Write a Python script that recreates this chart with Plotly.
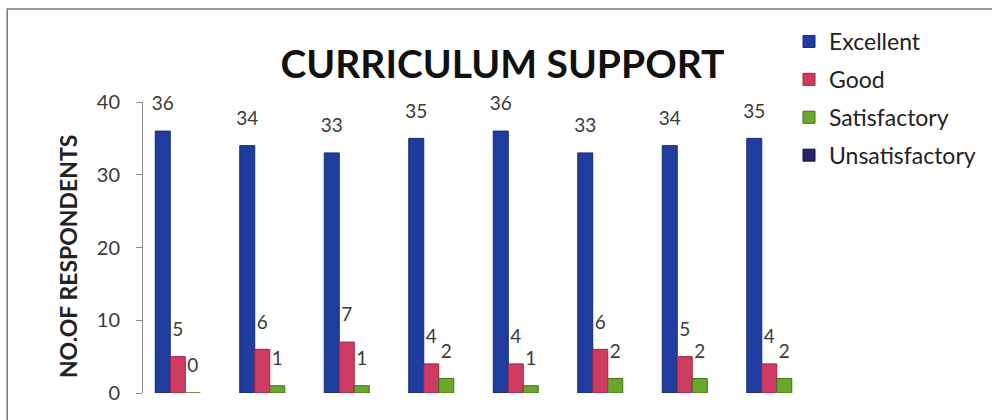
import plotly.graph_objects as go

categories = ["1", "2", "3", "4", "5", "6", "7", "8"]
excellent = [36, 34, 33, 35, 36, 33, 34, 35]
good = [5, 6, 7, 4, 4, 6, 5, 4]
satisfactory = [0, 1, 1, 2, 1, 2, 2, 2]
unsatisfactory = [None] * 8

series = [
    ("Excellent", excellent, "#1f3d9e", "#142a70"),
    ("Good", good, "#cf3c62", "#9a2442"),
    ("Satisfactory", satisfactory, "#6aa82c", "#3f6e18"),
    ("Unsatisfactory", unsatisfactory, "#262466", "#14123f"),
]

W, H = 992, 420
# plot area in page pixels: x 143..820, y 102..393
L, T = 143, 102
R = W - 820
B = H - 393
pw, ph = W - L - R, H - T - B

def px_x(x):
    return (x - L) / pw

def px_y(y):
    return (H - B - y) / ph

FONT = "Lato"
GAP = 0.29
fig = go.Figure()
for name, vals, col, edge in series:
    fig.add_trace(go.Bar(
        name=name, x=categories, y=vals,
        marker=dict(color=col, line=dict(color=edge, width=1)),
        legendgroup=name, offsetgroup=name,
    ))
for name, vals, col, edge in series:
    fig.add_trace(go.Scatter(
        x=categories, y=vals, mode="markers+text",
        text=[("" if v is None else str(v)) for v in vals],
        textposition="top center",
        textfont=dict(family=FONT, size=19, color="#3a3a3a"),
        marker=dict(size=24, color="rgba(0,0,0,0)"),
        offsetgroup=name, showlegend=False, hoverinfo="skip",
        cliponaxis=False,
    ))

fig.update_layout(
    width=W, height=H,
    margin=dict(l=L, r=R, t=T, b=B),
    paper_bgcolor="white", plot_bgcolor="white",
    barmode="group", bargap=GAP, bargroupgap=0,
    scattermode="group", scattergap=GAP,
    font=dict(family=FONT, color="#3a3a3a"),
    title=dict(text="<b>CURRICULUM SUPPORT</b>", x=px_x(503), xref="paper",
               y=1 - 64 / H, yanchor="middle", xanchor="center",
               font=dict(family=FONT, size=39, color="#111111")),
    showlegend=True,
    legend=dict(x=px_x(789), y=px_y(20), xanchor="left", yanchor="top",
                font=dict(family=FONT, size=23, color="#222222"),
                traceorder="grouped", tracegroupgap=5,
                bgcolor="rgba(0,0,0,0)"),
    xaxis=dict(showticklabels=False, showline=False, showgrid=False,
               ticks="", zeroline=False),
    yaxis=dict(range=[0, 40], dtick=10, showgrid=False, zeroline=False,
               showline=True, linecolor="#8a8a8a", linewidth=1,
               ticks="outside", ticklen=6, tickcolor="#8a8a8a",
               ticklabelstandoff=12,
               tickfont=dict(family=FONT, size=20, color="#3a3a3a")),
    shapes=[dict(type="rect", xref="paper", yref="paper",
                 x0=px_x(7), x1=px_x(1010), y0=px_y(440), y1=px_y(9),
                 line=dict(color="#777777", width=1.5), fillcolor="rgba(0,0,0,0)",
                 layer="below")],
    annotations=[dict(text="<b>NO.OF RESPONDENTS</b>", textangle=-90,
                      xref="paper", yref="paper", x=px_x(68), y=px_y(256),
                      showarrow=False, xanchor="center", yanchor="middle",
                      font=dict(family=FONT, size=23, color="#222222"))],
)

fig.write_html("out.html", config={"displayModeBar": False},
               post_script="document.body.style.margin='0';document.body.style.overflow='hidden';")
